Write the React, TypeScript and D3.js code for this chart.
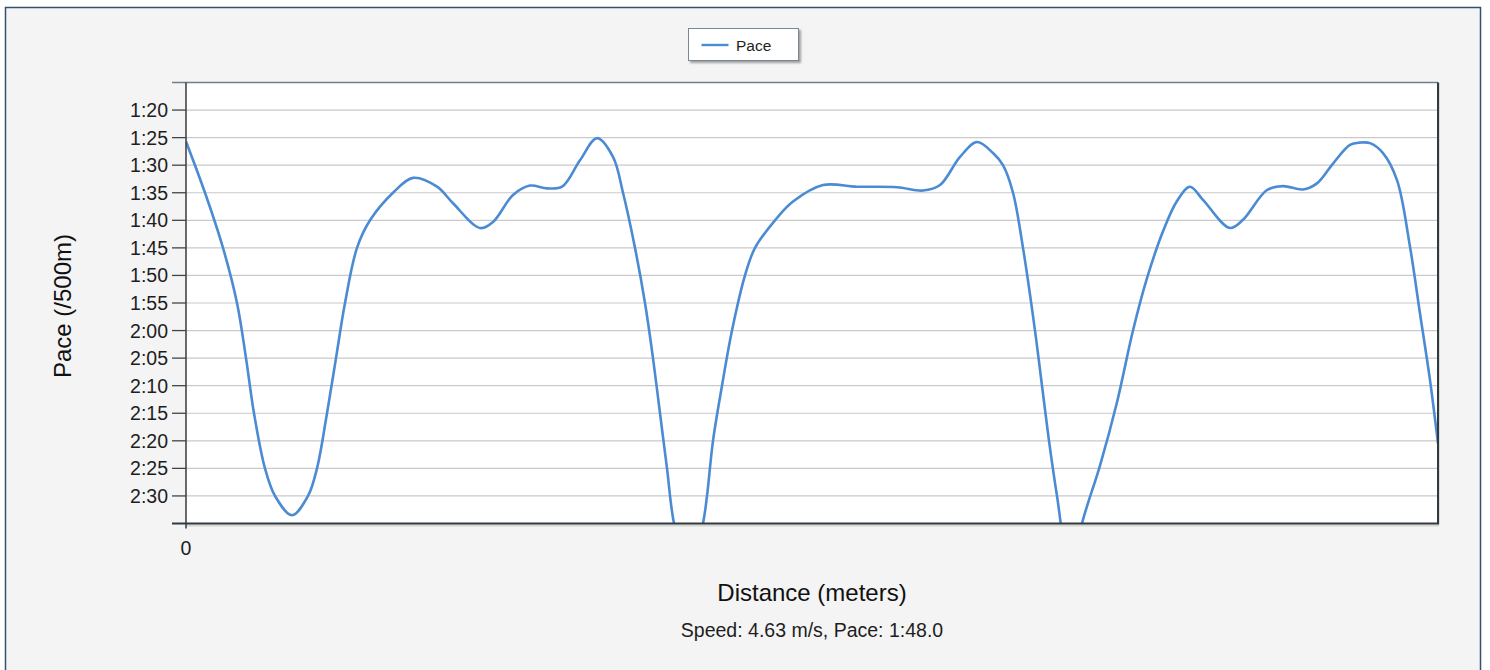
import React from "react";
import * as d3 from "d3";

const distance = [0, 19, 37, 51, 60, 68, 79, 89, 106, 122, 131, 141, 150, 159, 171, 184, 207, 227, 251, 267, 294, 307, 327, 344, 361, 376, 394, 411, 427, 437, 449, 459, 467, 474, 481, 488, 503, 517, 521, 527, 536, 546, 559, 569, 589, 607, 637, 671, 711, 737, 754, 774, 791, 807, 817, 827, 837, 849, 856, 863, 871, 885, 896, 914, 931, 947, 961, 977, 991, 1004, 1017, 1044, 1057, 1081, 1097, 1117, 1131, 1147, 1164, 1174, 1184, 1197, 1211, 1224, 1234, 1244, 1252];
const paceSec = [85.7, 95, 105, 115, 125, 135, 145, 150, 153.5, 150, 145, 135, 125, 115, 105, 100, 95, 92.3, 93.9, 96.9, 101.4, 100.3, 95.4, 93.7, 94.2, 93.9, 89.1, 85.1, 88.5, 95, 105, 115, 125, 135, 145, 155, 165, 155, 150, 140, 130, 120, 110, 105, 100, 96.6, 93.6, 93.9, 94.0, 94.6, 93.6, 88.5, 85.8, 87.8, 90, 95, 105, 120, 130, 140, 150, 165, 155, 144.5, 133, 120, 110.5, 102, 96.5, 93.9, 96.3, 101.4, 99.9, 94.5, 93.8, 94.4, 93.3, 89.7, 86.3, 85.9, 86.0, 87.8, 92.7, 104.8, 116.9, 129.0, 140.5];
const yTickValues = [80, 85, 90, 95, 100, 105, 110, 115, 120, 125, 130, 135, 140, 145, 150];
const xTickValues = [0];
const seriesName = "Pace";
const xTitle = "Distance (meters)";
const yTitle = "Pace (/500m)";
const subtitle = "Speed: 4.63 m/s, Pace: 1:48.0";

const fmtPace = (s: number) => {
  const m = Math.floor(s / 60);
  const r = Math.round(s - m * 60);
  return `${m}:${r < 10 ? "0" + r : r}`;
};

export default function App() {
  const W = 1490, H = 670;
  const left = 186, right = 1438, top = 82.5, bottom = 523.5;
  const x = d3.scaleLinear().domain([0, 1252]).range([left, right]);
  const y = d3.scaleLinear().domain([75, 155]).range([top, bottom]);
  const data = distance.map((d, i) => ({ d, p: paceSec[i] }));
  const line = d3.line<{ d: number; p: number }>()
    .x((v) => x(v.d))
    .y((v) => y(v.p))
    .curve(d3.curveCatmullRom.alpha(0.5));
  const font = "Arial, 'Liberation Sans', sans-serif";
  const lineColor = "#4a8bd3";

  return (
    <svg width={W} height={H} style={{ position: "absolute", left: 0, top: 0 }} fontFamily={font}>
      <defs>
        <clipPath id="plotclip">
          <rect x={left} y={top} width={right - left} height={bottom - top} />
        </clipPath>
        <filter id="shadow" x="-5%" y="-5%" width="115%" height="130%">
          <feDropShadow dx="2" dy="2" stdDeviation="1.2" floodColor="#000" floodOpacity="0.35" />
        </filter>
      </defs>
      <rect x={0} y={0} width={W} height={H} fill="#ffffff" />
      <rect x={5.5} y={7.5} width={1475} height={680} fill="#f4f4f4" stroke="#35506f" strokeWidth={1.5} />

      {/* plot area */}
      <rect x={left} y={top} width={right - left} height={bottom - top} fill="#ffffff" />
      {yTickValues.map((t) => (
        <line key={"g" + t} x1={left} x2={right} y1={y(t)} y2={y(t)} stroke="#c9c9c9" strokeWidth={1.2} />
      ))}
      <path d={line(data) || ""} fill="none" stroke={lineColor} strokeWidth={2.6} clipPath="url(#plotclip)" />

      {/* frame of plot area */}
      <line x1={172} x2={right} y1={top} y2={top} stroke="#6f7e8b" strokeWidth={1.5} />
      <line x1={right + 1} x2={right + 1} y1={top} y2={bottom + 1} stroke="#dcd9cf" strokeWidth={2} />
      <line x1={right} x2={right} y1={top} y2={bottom} stroke="#2e3a46" strokeWidth={2} />
      <line x1={left} x2={right + 1} y1={bottom + 2} y2={bottom + 2} stroke="#d8d6cc" strokeWidth={2} />
      <line x1={172} x2={right + 1} y1={bottom} y2={bottom} stroke="#2e3a46" strokeWidth={2} />
      <line x1={left} x2={left} y1={top} y2={bottom + 5} stroke="#3a3a3a" strokeWidth={1.5} />

      {/* y ticks */}
      {yTickValues.map((t) => (
        <g key={"t" + t}>
          <line x1={172} x2={left} y1={y(t)} y2={y(t)} stroke="#444" strokeWidth={1.3} />
          <text x={168} y={y(t)} dy="0.36em" textAnchor="end" fontSize={19.5} fill="#1e1e1e">
            {fmtPace(t)}
          </text>
        </g>
      ))}
      {/* x ticks */}
      {xTickValues.map((t) => (
        <text key={"x" + t} x={x(t)} y={555} textAnchor="middle" fontSize={19.5} fill="#1e1e1e">
          {t}
        </text>
      ))}

      {/* axis titles */}
      <text
        transform={`translate(65, 306) rotate(-90)`}
        textAnchor="middle"
        dominantBaseline="middle"
        fontSize={24}
        fill="#111"
      >
        {yTitle}
      </text>
      <text x={812} y={601} textAnchor="middle" fontSize={24} fill="#111">
        {xTitle}
      </text>
      <text x={812} y={637} textAnchor="middle" fontSize={19.5} fill="#1e1e1e">
        {subtitle}
      </text>

      {/* legend */}
      <rect x={688.5} y={28.5} width={110} height={32} fill="#ffffff" stroke="#7b8794" strokeWidth={1} filter="url(#shadow)" />
      <line x1={701.5} x2={728.5} y1={45} y2={45} stroke={lineColor} strokeWidth={2.4} />
      <text x={736} y={50.5} fontSize={15.5} fill="#1e1e1e">
        {seriesName}
      </text>
    </svg>
  );
}
